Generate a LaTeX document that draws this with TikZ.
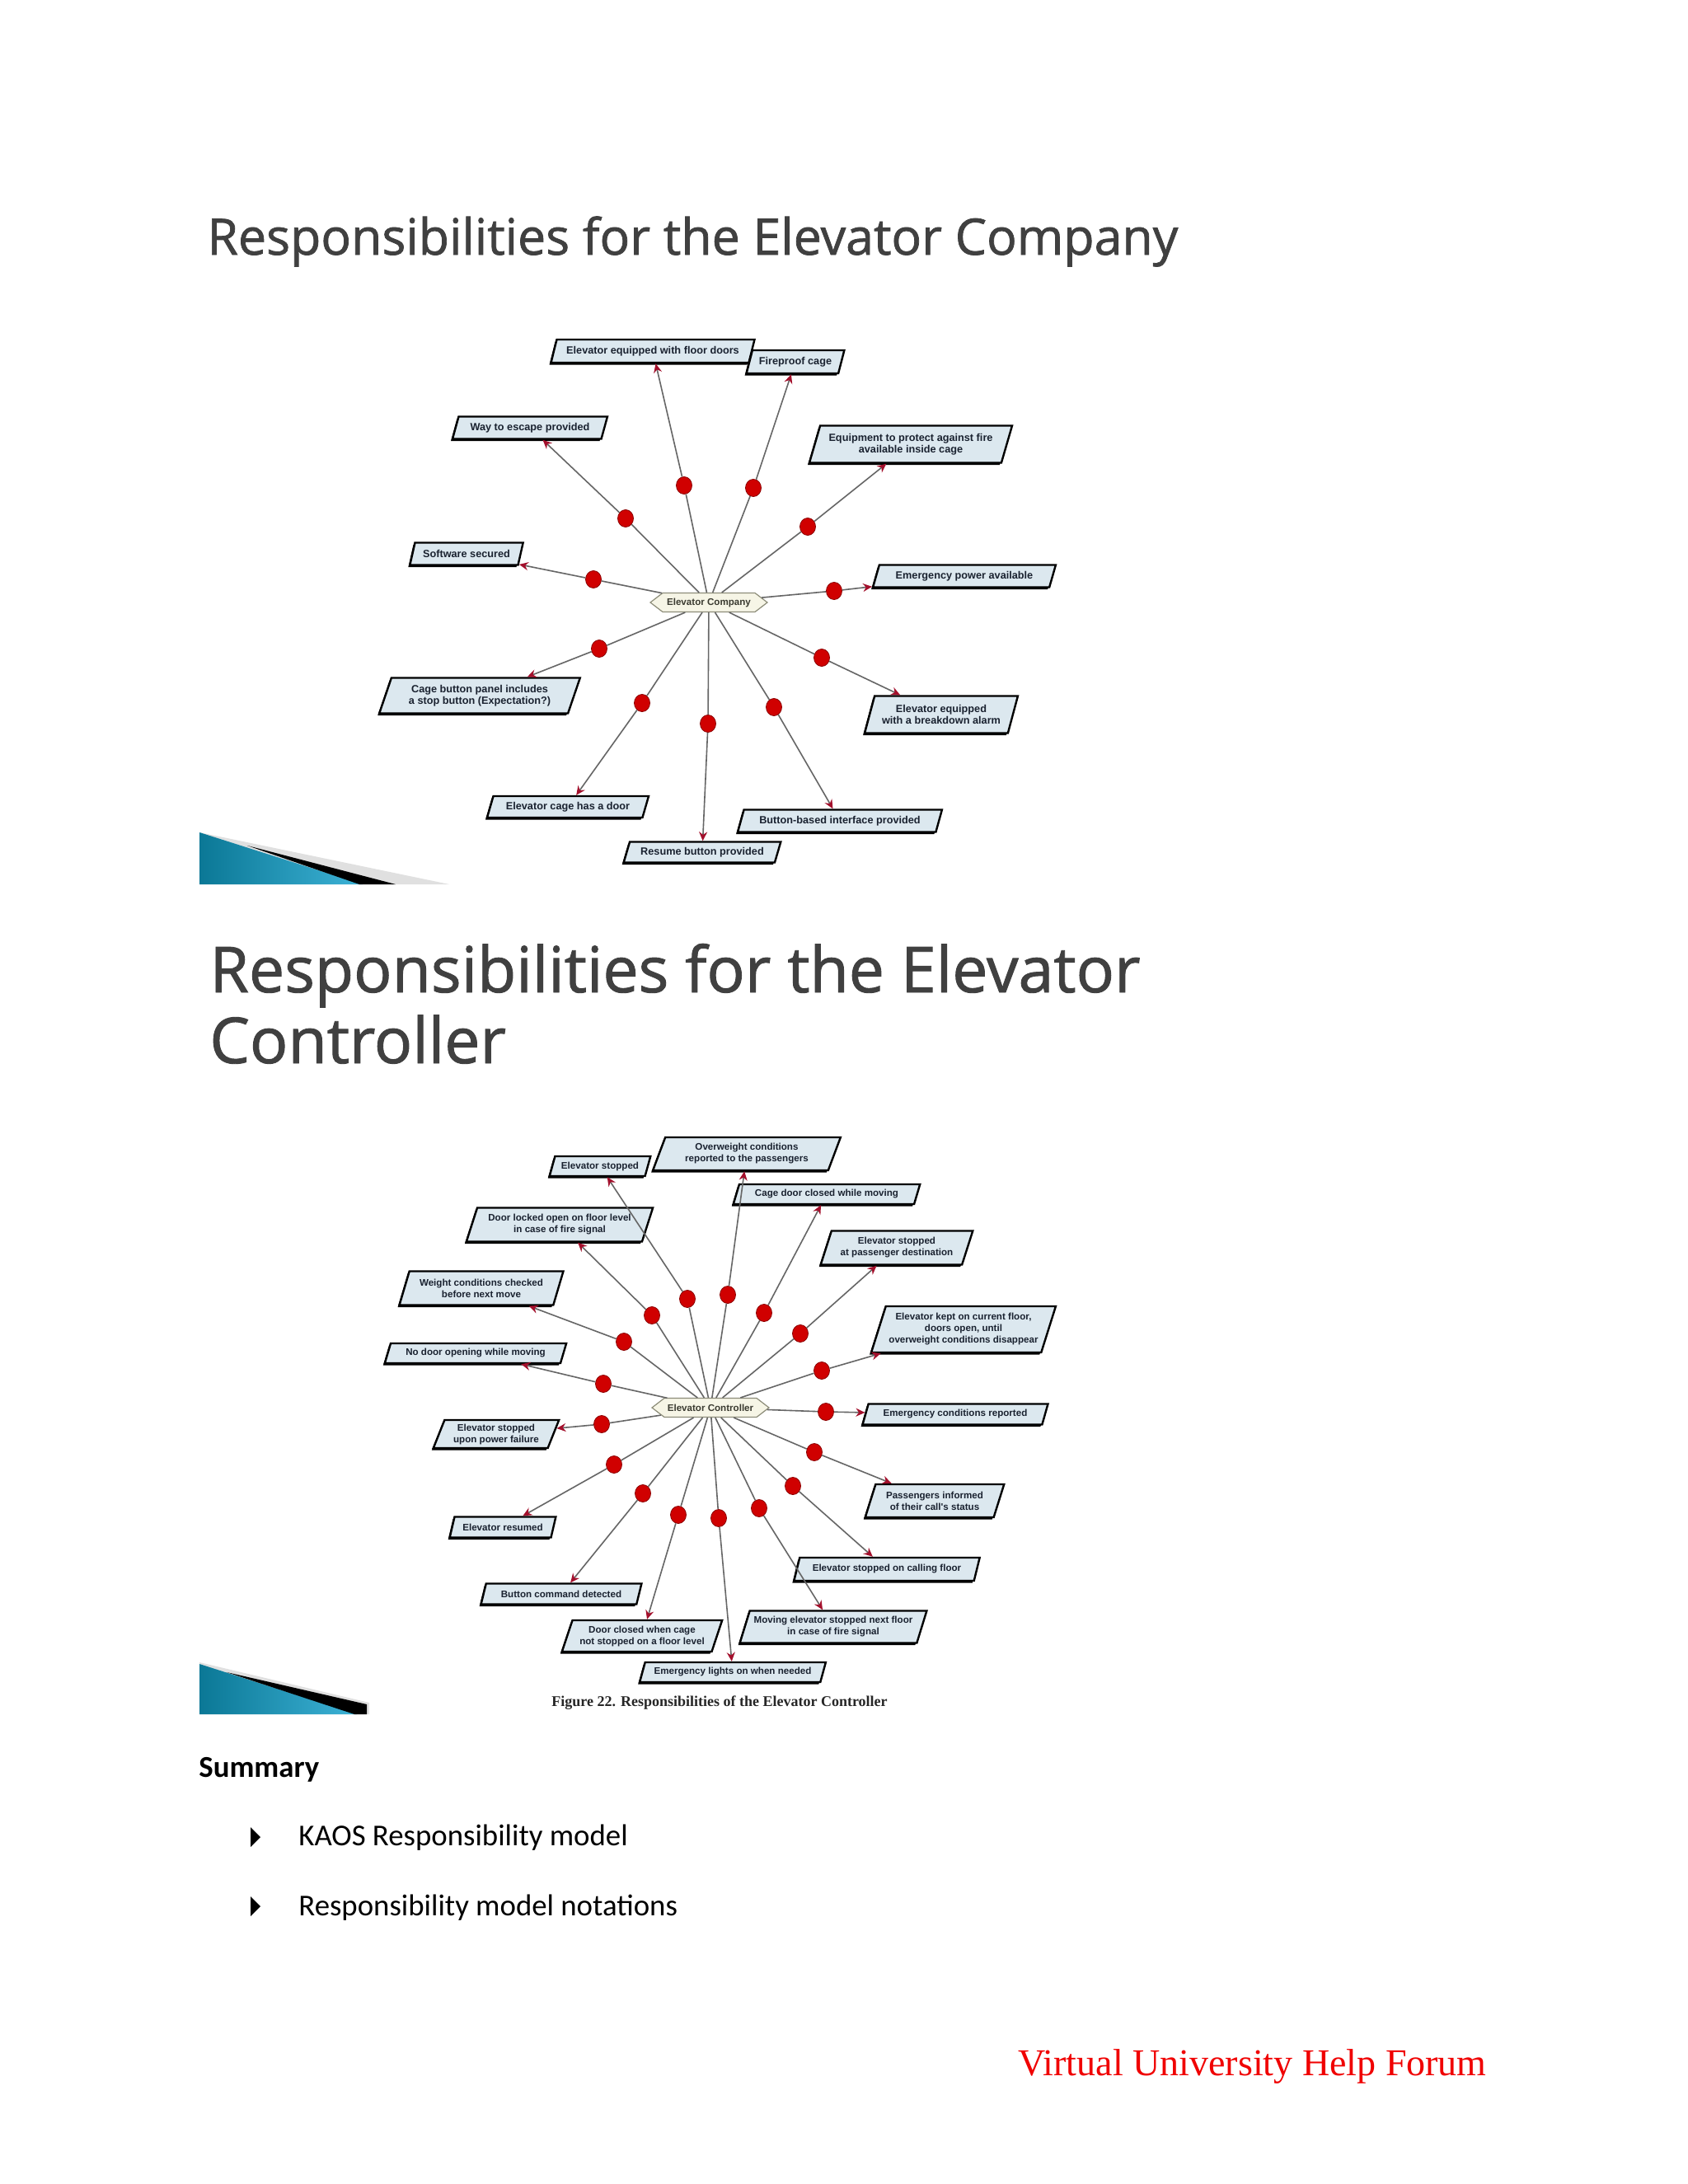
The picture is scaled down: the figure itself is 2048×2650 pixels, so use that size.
\documentclass[tikz,border=0pt]{standalone}
\usepackage{fontspec}
\setmainfont{Liberation Serif}
\newfontfamily\boxfont{Liberation Sans}
\newfontfamily\titlefont[FakeBold=1.2]{Open Sans}
\newfontfamily\bodyfont{Carlito}
\usetikzlibrary{shapes.geometric,shapes.symbols,arrows.meta,shadows}
\definecolor{boxfill}{HTML}{DCE8EF}
\definecolor{boxtext}{HTML}{1A2230}
\definecolor{linegray}{HTML}{666666}
\definecolor{tipred}{HTML}{A3102C}
\definecolor{dotred}{HTML}{D00000}
\definecolor{dotdark}{HTML}{8A0000}
\definecolor{hubfill}{HTML}{F6F5E6}
\definecolor{hubline}{HTML}{8C8C78}
\definecolor{hubtext}{HTML}{3A3A30}
\definecolor{titlegray}{HTML}{404040}
\definecolor{wedgeA}{HTML}{0B7896}
\definecolor{wedgeB}{HTML}{3DB2D6}
\definecolor{vured}{HTML}{F00000}
\tikzset{
  goal/.style={trapezium, trapezium left angle=68, trapezium right angle=112,
    trapezium stretches=true, draw=black, line width=1.2pt, fill=boxfill,
    text=boxtext, align=center, inner xsep=1pt, inner ysep=1pt,
    font={\boxfont\bfseries\fontsize{6.35pt}{7pt}\selectfont},
    drop shadow={shadow xshift=-1pt, shadow yshift=-1.3pt, opacity=1, fill=black}},
  goalc/.style={goal, font={\boxfont\bfseries\fontsize{5.8pt}{7pt}\selectfont}},
  gsize/.style 2 args={minimum width=#1*0.5pt, minimum height=#2*0.5pt},
  dotnode/.style={ellipse, minimum width=9.5pt, minimum height=10.5pt, inner sep=0pt,
    fill=dotred, draw=dotdark, line width=0.4pt},
  hub/.style={signal, signal to=east and west, signal pointer angle=75,
    draw=hubline, fill=hubfill, line width=0.6pt, inner xsep=0pt, inner ysep=1pt,
    minimum width=71pt, minimum height=11.5pt, text=hubtext,
    font={\boxfont\bfseries\fontsize{5.8pt}{7pt}\selectfont}},
  conn/.style={draw=linegray, line width=0.8pt},
  tip/.style={-{Stealth[length=5.5pt,width=5pt,inset=1.8pt,color=tipred]}},
  titleA/.style={inner sep=0pt, text=titlegray, font={\titlefont\fontsize{30.4pt}{36pt}\selectfont}},
  titleB/.style={inner sep=0pt, text=titlegray, font={\titlefont\fontsize{38.5pt}{43pt}\selectfont}},
  bodytext/.style={inner sep=0pt, text=black, font={\bodyfont\fontsize{18.4pt}{22pt}\selectfont}}
}
\begin{document}
\begin{tikzpicture}[x=0.5pt,y=-0.5pt]
\useasboundingbox (0,0) rectangle (2048,2650);
\fill[white] (0,0) rectangle (2048,2650);

% ---------- titles ----------
\node[titleA, anchor=base west] (tA) at (251,309) {Responsibilities for the Elevator Company};
\node[titleB, anchor=base west] (tB1) at (254,1204) {Responsibilities for the Elevator};
\node[titleB, anchor=base west] (tB2) at (254,1290) {Controller};

% ---------- decorative wedges ----------
\fill[black!12] (242,1010) -- (545,1073) -- (242,1073) -- cycle;
\shade[left color=wedgeA, right color=wedgeB] (242,1010) -- (440,1073) -- (242,1073) -- cycle;
\fill[black] (300,1026) -- (480,1073) -- (436,1073) -- cycle;

\fill[black!12] (242,2017) -- (448,2066) -- (448,2080) -- (242,2080) -- cycle;
\shade[left color=wedgeA, right color=wedgeB] (242,2019) -- (433,2080) -- (242,2080) -- cycle;
\fill[black] (275,2029) -- (445,2068) -- (445,2080) -- (430,2080) -- cycle;

% ---------- Elevator Company ----------
\node[hub] (hubA) at (860,731) {Elevator Company};

\node[goal, gsize={247}{28}] (bA1) at (792,426) {Elevator equipped with floor doors};
\node[goal, gsize={119}{28}] (bA2) at (965,439) {Fireproof cage};
\node[goal, gsize={189}{27}] (bA3) at (643,519) {Way to escape provided};
\node[goal, gsize={246}{45}] (bA4) at (1105,539) {Equipment to protect against fire\\available inside cage};
\node[goal, gsize={138}{27}] (bA5) at (566,672) {Software secured};
\node[goal, gsize={222}{27}] (bA6) at (1170,699) {Emergency power available};
\node[goal, gsize={246}{43}] (bA7) at (582,844) {Cage button panel includes\\a stop button (Expectation?)};
\node[goal, gsize={187}{45}] (bA8) at (1142,867) {Elevator equipped\\with a breakdown alarm};
\node[goal, gsize={197}{26}] (bA9) at (689,979) {Elevator cage has a door};
\node[goal, gsize={191}{25}] (bA10) at (852,1034) {Resume button provided};
\node[goal, gsize={248}{27}] (bA11) at (1019,996) {Button-based interface provided};

\node[dotnode] (dA1) at (830,589) {};
\node[dotnode] (dA2) at (914,592) {};
\node[dotnode] (dA3) at (759,629) {};
\node[dotnode] (dA4) at (980,639) {};
\node[dotnode] (dA5) at (720,703) {};
\node[dotnode] (dA6) at (1012,717) {};
\node[dotnode] (dA7) at (727,787) {};
\node[dotnode] (dA8) at (997,798) {};
\node[dotnode] (dA9) at (779,853) {};
\node[dotnode] (dA10) at (859,878) {};
\node[dotnode] (dA11) at (939,858) {};

\foreach \i in {1,...,11}{
  \draw[conn] (hubA) -- (dA\i);
  \draw[conn, tip] (dA\i) -- (bA\i);
}

% ---------- Elevator Controller ----------
\node[hub] (hubB) at (862,1708) {Elevator Controller};

\node[goalc, gsize={123}{24}] (bB1) at (728,1415) {Elevator stopped};
\node[goalc, gsize={228}{40}] (bB2) at (906,1400) {Overweight conditions\\reported to the passengers};
\node[goalc, gsize={227}{24}] (bB3) at (1003,1449) {Cage door closed while moving};
\node[goalc, gsize={228}{41}] (bB4) at (679,1486) {Door locked open on floor level\\in case of fire signal};
\node[goalc, gsize={186}{41}] (bB5) at (1088,1514) {Elevator stopped\\at passenger destination};
\node[goalc, gsize={199}{41}] (bB6) at (584,1563) {Weight conditions checked\\before next move};
\node[goalc, gsize={224}{56}] (bB7) at (1169,1613) {Elevator kept on current floor,\\doors open, until\\overweight conditions disappear};
\node[goalc, gsize={222}{24}] (bB8) at (577,1642) {No door opening while moving};
\node[goalc, gsize={227}{25}] (bB9) at (1159,1716) {Emergency conditions reported};
\node[goalc, gsize={153}{34}] (bB10) at (602,1740) {Elevator stopped\\upon power failure};
\node[goalc, gsize={129}{25}] (bB11) at (610,1853) {Elevator resumed};
\node[goalc, gsize={169}{40}] (bB12) at (1134,1821) {Passengers informed\\of their call's status};
\node[goalc, gsize={227}{28}] (bB13) at (1076,1904) {Elevator stopped on calling floor};
\node[goalc, gsize={196}{25}] (bB14) at (681,1934) {Button command detected};
\node[goalc, gsize={196}{38}] (bB15) at (779,1985) {Door closed when cage\\not stopped on a floor level};
\node[goalc, gsize={227}{39}] (bB16) at (1011,1974) {Moving elevator stopped next floor\\in case of fire signal};
\node[goalc, gsize={226}{24}] (bB17) at (889,2029) {Emergency lights on when needed};

\node[dotnode] (dB1) at (834,1576) {};
\node[dotnode] (dB2) at (883,1571) {};
\node[dotnode] (dB3) at (927,1593) {};
\node[dotnode] (dB4) at (791,1596) {};
\node[dotnode] (dB5) at (971,1618) {};
\node[dotnode] (dB6) at (757,1628) {};
\node[dotnode] (dB7) at (997,1663) {};
\node[dotnode] (dB8) at (732,1679) {};
\node[dotnode] (dB9) at (1002,1713) {};
\node[dotnode] (dB10) at (730,1728) {};
\node[dotnode] (dB11) at (745,1777) {};
\node[dotnode] (dB12) at (988,1762) {};
\node[dotnode] (dB13) at (962,1803) {};
\node[dotnode] (dB14) at (780,1812) {};
\node[dotnode] (dB15) at (823,1838) {};
\node[dotnode] (dB16) at (921,1830) {};
\node[dotnode] (dB17) at (872,1842) {};

\foreach \i in {1,...,17}{
  \draw[conn] (hubB) -- (dB\i);
  \draw[conn, tip] (dB\i) -- (bB\i);
}

\node[inner sep=0pt, text=black!85, anchor=base, font={\bfseries\fontsize{9pt}{11pt}\selectfont}] (cap) at (873,2070)
  {Figure 22. Responsibilities of the Elevator Controller};

% ---------- summary ----------
\node[bodytext, anchor=base west, font={\bodyfont\bfseries\fontsize{18.4pt}{22pt}\selectfont}] (sum) at (241,2156) {Summary};
\fill[black] (304,2217) -- (316,2229) -- (304,2241) -- cycle;
\node[bodytext, anchor=base west] (it1) at (362,2239) {KAOS Responsibility model};
\fill[black] (304,2301) -- (316,2313) -- (304,2325) -- cycle;
\node[bodytext, anchor=base west] (it2) at (362,2324) {Responsibility model notations};

\node[inner sep=0pt, text=vured, anchor=base west, font={\fontsize{23pt}{27pt}\selectfont}] (vu) at (1235,2518) {Virtual University Help Forum};
\end{tikzpicture}
\end{document}
